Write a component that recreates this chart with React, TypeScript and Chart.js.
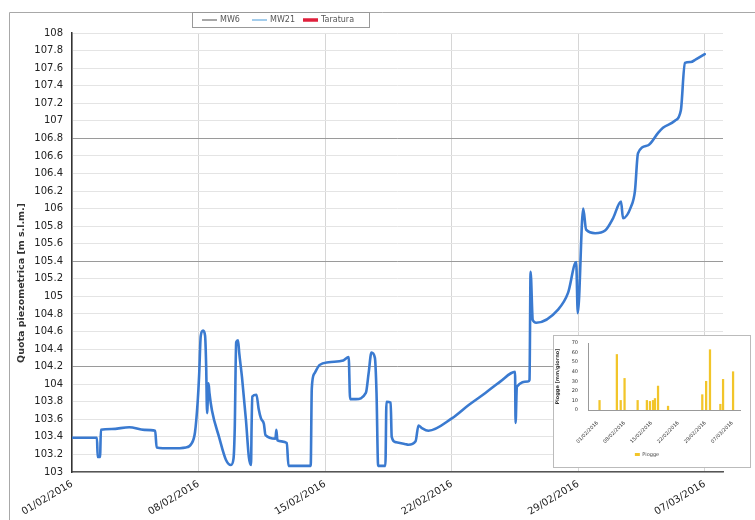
import React, { useEffect, useRef } from 'react';
import { Chart, registerables } from 'chart.js';

Chart.register(...registerables);

// ---- data ----
const xTickDays = [0, 7, 14, 21, 28, 35];
const xTickLabels = ['01/02/2016', '08/02/2016', '15/02/2016', '22/02/2016', '29/02/2016', '07/03/2016'];
const seriesNames = ['MW6', 'MW21', 'Taratura'];
const yTitle = 'Quota piezometrica [m s.l.m.]';
const refLevels = [104.2, 105.4, 106.8];

const mw6Levels: { x: number; y: number }[] = [];
const taraturaLevels: { x: number; y: number }[] = [];

const mw21Days = [
  0, 1.38, 1.42, 1.55, 1.6, 2.2, 3.17, 4.0, 4.6, 4.68, 5.5, 6.3, 6.6, 6.8, 6.95, 7.03, 7.12, 7.25, 7.36, 7.42,
  7.47, 7.55, 7.6, 7.74, 8.13, 8.51, 8.79, 8.93, 9.0, 9.08, 9.18, 9.25, 9.4, 9.62, 9.78, 9.9, 9.93, 9.97, 10.2,
  10.32, 10.45, 10.61, 10.7, 11.25, 11.3, 11.36, 11.88, 11.97, 13.2, 13.26, 13.4, 13.7, 14.2, 15.0, 15.3, 15.38,
  15.7, 16.25, 16.4, 16.56, 16.75, 16.84, 16.93, 17.33, 17.39, 17.62, 17.68, 17.9, 18.4, 18.6, 19.0, 19.16,
  19.35, 19.71, 21.0, 21.92, 22.86, 23.68, 24.5, 24.53, 24.6, 25.22, 25.3, 25.36, 25.48, 25.67, 26.88, 27.43,
  27.88, 27.97, 28.27, 28.43, 28.93, 29.48, 29.92, 30.36, 30.47, 30.91, 31.13, 31.3, 31.85, 32.4, 32.68, 33.34,
  33.67, 33.89, 34.22, 34.5, 34.99,
];
const mw21Levels = [
  103.39, 103.39, 103.17, 103.17, 103.48, 103.49, 103.51, 103.48, 103.47, 103.28, 103.27, 103.28, 103.32, 103.45,
  103.8, 104.1, 104.55, 104.61, 104.55, 104.2, 103.67, 104.01, 103.9, 103.7, 103.4, 103.14, 103.08, 103.15, 103.5,
  104.48, 104.5, 104.35, 104.08, 103.59, 103.17, 103.08, 103.5, 103.86, 103.88, 103.72, 103.61, 103.55, 103.42,
  103.38, 103.48, 103.36, 103.33, 103.07, 103.07, 103.95, 104.12, 104.22, 104.25, 104.27, 104.31, 103.83, 103.83,
  103.9, 104.12, 104.36, 104.3, 103.9, 103.07, 103.07, 103.8, 103.79, 103.4, 103.34, 103.32, 103.31, 103.35,
  103.53, 103.5, 103.47, 103.61, 103.76, 103.9, 104.03, 104.14, 103.56, 103.97, 104.03, 104.05, 105.28, 104.73,
  104.7, 104.85, 105.04, 105.39, 104.81, 106.0, 105.76, 105.72, 105.75, 105.89, 106.08, 105.89, 106.02, 106.2,
  106.63, 106.72, 106.86, 106.92, 107.0, 107.12, 107.66, 107.67, 107.7, 107.76,
];

const rainLabel = 'Piogge';
const rainTitle = 'Piogge [mm/giorno]';
const rainDays = [0.5, 5.0, 6.0, 7.0, 10.4, 12.8, 13.6, 14.4, 14.9, 15.7, 18.3, 27.2, 28.2, 29.2, 31.9, 32.6, 35.2];
const rainMm = [10, 58, 10, 33, 10, 10, 9, 10, 12, 25, 4, 16, 30, 63, 6, 32, 40];
const rainTickValues = [0, 10, 20, 30, 40, 50, 60, 70];

// ---- styles ----
const FONT = 'DejaVu Sans';
const legendColors = ['#8a8a8a', '#86bde6', '#e0203c'];
const legendWidths = [1.5, 1.5, 3.5];

const decorPlugin = {
  id: 'decor',
  beforeDraw(chart: any) {
    const ctx = chart.ctx;
    ctx.save();
    ctx.fillStyle = '#ffffff';
    ctx.fillRect(0, 0, chart.width, chart.height);
    ctx.strokeStyle = '#a8a8a8';
    ctx.lineWidth = 1;
    ctx.beginPath();
    ctx.moveTo(9.5, chart.height);
    ctx.lineTo(9.5, 12.5);
    ctx.lineTo(chart.width, 12.5);
    ctx.stroke();
    ctx.restore();
  },
  afterDraw(chart: any) {
    const ctx = chart.ctx;
    ctx.save();
    // y axis title
    ctx.translate(22, 283);
    ctx.rotate(-Math.PI / 2);
    ctx.font = `bold 9.5px "${FONT}"`;
    ctx.fillStyle = '#333';
    ctx.textAlign = 'center';
    ctx.textBaseline = 'middle';
    ctx.fillText(yTitle, 0, 0);
    ctx.restore();

    // legend
    ctx.save();
    const lx = 192, ly = 12, lw = 177, lh = 15;
    ctx.fillStyle = '#fff';
    ctx.fillRect(lx, ly, lw, lh);
    ctx.strokeStyle = '#999';
    ctx.lineWidth = 1;
    ctx.strokeRect(lx + 0.5, ly + 0.5, lw, lh);
    const itemX = [202, 252, 303];
    ctx.font = `8px "${FONT}"`;
    ctx.textBaseline = 'middle';
    chart.data.datasets.forEach((ds: any, i: number) => {
      const x = itemX[i];
      const y = ly + lh / 2 + 0.5;
      ctx.strokeStyle = legendColors[i];
      ctx.lineWidth = legendWidths[i];
      ctx.beginPath();
      ctx.moveTo(x, y);
      ctx.lineTo(x + 15, y);
      ctx.stroke();
      ctx.fillStyle = '#555';
      ctx.fillText(ds.label, x + 18, y);
    });
    ctx.restore();
  },
};

const insetPlugin = {
  id: 'insetBg',
  beforeDraw(chart: any) {
    const ctx = chart.ctx;
    ctx.save();
    ctx.fillStyle = '#ffffff';
    ctx.fillRect(0, 0, chart.width, chart.height);
    ctx.restore();
  },
};

export default function App() {
  const mainRef = useRef<HTMLCanvasElement>(null);
  const insetRef = useRef<HTMLCanvasElement>(null);

  useEffect(() => {
    const main = new Chart(mainRef.current as HTMLCanvasElement, {
      type: 'line',
      data: {
        datasets: [
          { label: seriesNames[0], data: mw6Levels, borderColor: legendColors[0], borderWidth: 1.5 },
          {
            label: seriesNames[1],
            data: mw21Days.map((d, i) => ({ x: d, y: mw21Levels[i] })),
            borderColor: '#3a7ad0',
            borderWidth: 2.6,
            cubicInterpolationMode: 'monotone',
          },
          { label: seriesNames[2], data: taraturaLevels, borderColor: legendColors[2], borderWidth: 3.5 },
        ],
      },
      options: {
        responsive: false,
        animation: false,
        layout: { padding: { left: 0, top: 33, right: 32, bottom: 0 } },
        plugins: { legend: { display: false }, tooltip: { enabled: false } },
        elements: { point: { radius: 0 }, line: { borderJoinStyle: 'round', borderCapStyle: 'round' } },
        scales: {
          x: {
            type: 'linear',
            min: 0,
            max: 36,
            afterBuildTicks: (s: any) => {
              s.ticks = xTickDays.map((v) => ({ value: v }));
            },
            afterFit: (s: any) => {
              s.height = 48;
            },
            ticks: {
              autoSkip: false,
              maxRotation: 31,
              minRotation: 31,
              padding: 6,
              color: '#222',
              font: { family: FONT, size: 10 },
              callback: (v: any) => {
                const i = xTickDays.indexOf(Number(v));
                return i >= 0 ? xTickLabels[i] : '';
              },
            },
            grid: { color: '#d6d6d6', drawTicks: false, lineWidth: 1 },
            border: { color: '#555', width: 1.5 },
          },
          y: {
            type: 'linear',
            min: 103,
            max: 108,
            afterFit: (s: any) => {
              s.width = 72;
            },
            ticks: {
              stepSize: 0.2,
              padding: 9,
              color: '#222',
              font: { family: FONT, size: 10 },
              callback: (v: any) => String(Math.round(Number(v) * 10) / 10),
            },
            grid: {
              drawTicks: false,
              color: (c: any) =>
                refLevels.some((r) => Math.abs(c.tick.value - r) < 1e-6) ? '#9a9a9a' : '#e4e4e4',
            },
            border: { color: '#333', width: 1.5 },
          },
        },
      },
      plugins: [decorPlugin],
    } as any);

    const inset = new Chart(insetRef.current as HTMLCanvasElement, {
      type: 'bar',
      data: {
        datasets: [
          {
            label: rainLabel,
            data: rainDays.map((d, i) => ({ x: d, y: rainMm[i] })),
            backgroundColor: '#f2c52a',
            barThickness: 1.6,
          },
        ],
      },
      options: {
        responsive: false,
        animation: false,
        layout: { padding: { left: 0, top: 7, right: 10, bottom: 0 } },
        plugins: {
          tooltip: { enabled: false },
          legend: {
            position: 'bottom',
            labels: { boxWidth: 5, boxHeight: 3, padding: 3, color: '#444', font: { family: FONT, size: 5 } },
          },
        },
        scales: {
          x: {
            type: 'linear',
            min: -2.5,
            max: 37,
            offset: false,
            afterBuildTicks: (s: any) => {
              s.ticks = xTickDays.map((v) => ({ value: v }));
            },
            afterFit: (s: any) => {
              s.height = 39;
            },
            ticks: {
              autoSkip: false,
              maxRotation: 45,
              minRotation: 45,
              padding: 2,
              color: '#333',
              font: { family: FONT, size: 5 },
              callback: (v: any) => {
                const i = xTickDays.indexOf(Number(v));
                return i >= 0 ? xTickLabels[i] : '';
              },
            },
            grid: { display: false, offset: false },
            border: { color: '#999', width: 1 },
          },
          y: {
            min: 0,
            max: 70,
            afterBuildTicks: (s: any) => {
              s.ticks = rainTickValues.map((v) => ({ value: v }));
            },
            afterFit: (s: any) => {
              s.width = 34;
            },
            ticks: { autoSkip: false, padding: 2, color: '#333', font: { family: FONT, size: 5 } },
            title: {
              display: true,
              text: rainTitle,
              color: '#333',
              padding: 1,
              font: { family: FONT, size: 5, weight: 'bold' },
            },
            grid: { display: false },
            border: { color: '#999', width: 1 },
          },
        },
      },
      plugins: [insetPlugin],
    } as any);

    return () => {
      main.destroy();
      inset.destroy();
    };
  }, []);

  return (
    <div style={{ position: 'fixed', left: 0, top: 0, width: 755, height: 520, background: '#fff' }}>
      <canvas ref={mainRef} width={755} height={520} style={{ position: 'absolute', left: 0, top: 0 }} />
      <div
        style={{
          position: 'absolute',
          left: 553,
          top: 335,
          width: 198,
          height: 133,
          boxSizing: 'border-box',
          border: '1px solid #bbb',
          background: '#fff',
        }}
      >
        <canvas ref={insetRef} width={196} height={131} style={{ display: 'block' }} />
      </div>
    </div>
  );
}
